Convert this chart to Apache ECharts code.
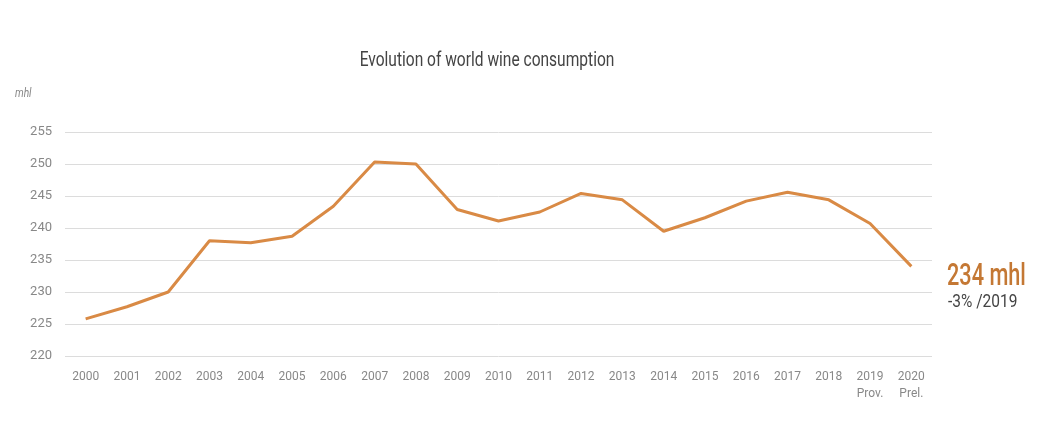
<!DOCTYPE html>
<html><head><meta charset="utf-8">
<script src="https://cdn.jsdelivr.net/npm/echarts@6/dist/echarts.min.js"></script>
<style>html,body{margin:0;padding:0;background:#fff}#c{width:1037px;height:422px}</style>
</head><body><div id="c"></div>
<script>
const categories = ['2000','2001','2002','2003','2004','2005','2006','2007','2008','2009','2010','2011','2012','2013','2014','2015','2016','2017','2018','2019\nProv.','2020\nPrel.'];
const consumption = [225.8,227.7,230.0,238.0,237.7,238.7,243.4,250.3,250.0,242.9,241.1,242.5,245.4,244.4,239.5,241.6,244.2,245.6,244.4,240.7,234.0];
const yTicks = {min:220, max:255, interval:5};
const titleText = 'Evolution of world wine consumption';
const unitText = 'mhl';
const valueText = '234 mhl';
const changeText = '-3% /2019';
const FONT = 'Roboto, sans-serif';
const chart = echarts.init(document.getElementById('c'));
chart.setOption({
  animation:false,
  graphic:[
    {type:'text',x:487,y:61,scaleX:0.74,style:{text:titleText,fontFamily:FONT,fontSize:21,fill:'#444',align:'center',verticalAlign:'middle'}},
    {type:'text',x:15,y:94,scaleX:0.85,style:{text:unitText,fontFamily:FONT,fontStyle:'italic',fontSize:12,fill:'#888',verticalAlign:'middle'}},
    {type:'text',x:947,y:277,scaleX:0.7,style:{text:valueText,fontFamily:FONT,fontSize:31,fontWeight:500,fill:'#c47834',verticalAlign:'middle'}},
    {type:'text',x:948,y:302,scaleX:0.86,style:{text:changeText,fontFamily:FONT,fontSize:18,fill:'#444',verticalAlign:'middle'}}
  ],
  grid:{left:65,right:105,top:132,bottom:66},
  xAxis:{type:'category',data:categories,boundaryGap:true,
    axisLine:{show:false},axisTick:{show:false},
    axisLabel:{fontFamily:FONT,fontSize:12,color:'#888',margin:12,lineHeight:17}},
  yAxis:{type:'value',min:yTicks.min,max:yTicks.max,interval:yTicks.interval,
    axisLine:{show:false},axisTick:{show:false},
    axisLabel:{fontFamily:FONT,fontSize:13,color:'#888',margin:13},
    splitLine:{lineStyle:{color:'#dcdcdc',width:1}}},
  series:[{type:'line',data:consumption,symbol:'none',
    lineStyle:{color:'#d98a45',width:3}}]
});
</script></body></html>
